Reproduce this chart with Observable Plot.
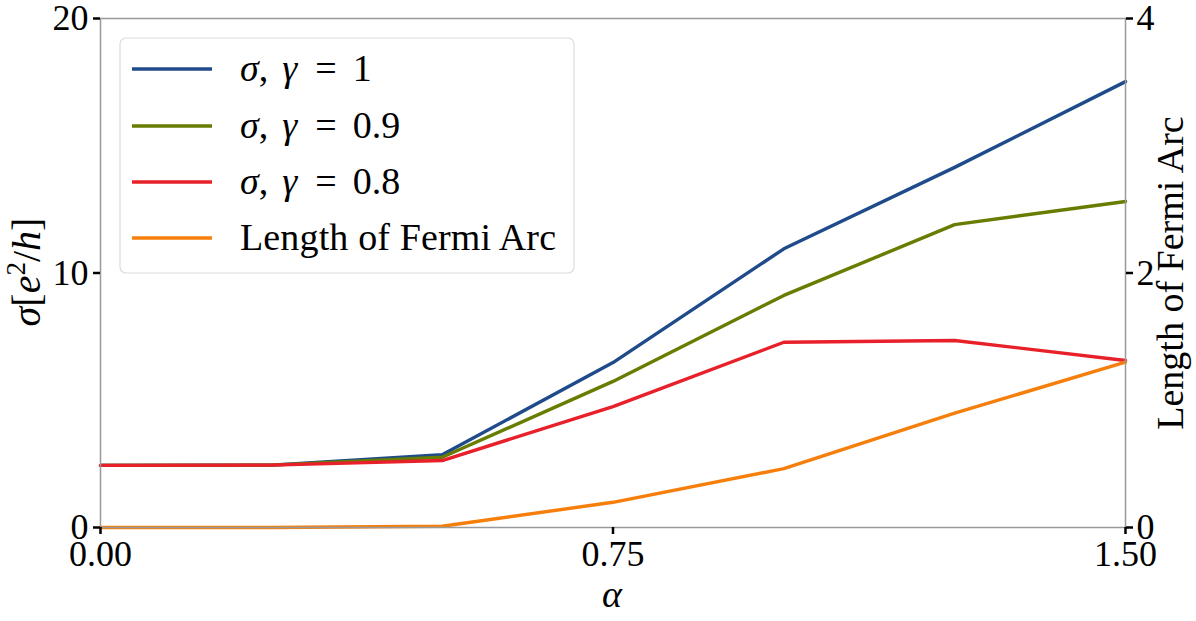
<!DOCTYPE html>
<html>
<head>
<meta charset="utf-8">
<script src="https://cdn.jsdelivr.net/npm/d3@7"></script>
<script src="https://cdn.jsdelivr.net/npm/@observablehq/plot@0.6"></script>
<style>
  html, body { margin: 0; padding: 0; background: white; }
  #chart { width: 1196px; height: 621px; }
</style>
</head>
<body>
<div id="chart"></div>
<script>
// ---- data ----
const alpha = [0, 0.25, 0.5, 0.75, 1.0, 1.25, 1.5];
const sigmaG1 = [2.44, 2.45, 2.86, 6.48, 10.95, 14.15, 17.52];
const sigmaG09 = [2.44, 2.45, 2.76, 5.74, 9.12, 11.9, 12.81];
const sigmaG08 = [2.44, 2.45, 2.63, 4.75, 7.28, 7.35, 6.56];
const fermiArc = [0, 0, 0.01, 0.198, 0.463, 0.898, 1.30];
const seriesNames = ["σ, γ = 1", "σ, γ = 0.9", "σ, γ = 0.8", "Length of Fermi Arc"];
const seriesColors = ["#1f4b8a", "#667d00", "#e8202a", "#f67f0b"];
const xTicks = [0, 0.75, 1.5];
const leftTicks = [0, 10, 20];
const rightTicks = [0, 2, 4];
const rightFactor = 5; // right axis 0..4 maps onto left 0..20

const rows = [];
[sigmaG1, sigmaG09, sigmaG08].forEach((arr, i) =>
  arr.forEach((v, j) => rows.push({series: seriesNames[i], alpha: alpha[j], value: v})));
fermiArc.forEach((v, j) => rows.push({series: seriesNames[3], alpha: alpha[j], value: v * rightFactor}));

const W = 1196, H = 621;
const mL = 100, mR = 71, mT = 18, mB = 94;
const FONT = "'Liberation Serif', 'DejaVu Serif', serif";

const plot = Plot.plot({
  width: W, height: H,
  marginLeft: mL, marginRight: mR, marginTop: mT, marginBottom: mB,
  style: {fontFamily: FONT, fontSize: "36px", color: "black", background: "white", overflow: "visible"},
  x: {domain: [0, 1.5]},
  y: {domain: [0, 20]},
  color: {domain: seriesNames, range: seriesColors},
  marks: [
    Plot.line(rows, {x: "alpha", y: "value", z: "series", stroke: "series", strokeWidth: 3.4, strokeLinejoin: "miter"}),
    Plot.frame({stroke: "#999", strokeWidth: 1.5}),
    Plot.axisX(xTicks, {tickSize: 7, tickPadding: 6, strokeWidth: 2.5, stroke: "black", tickFormat: d3.format(".2f"), label: null, fontSize: 36}),
    Plot.axisY(leftTicks, {anchor: "left", tickSize: 7, tickPadding: 5, strokeWidth: 2.5, stroke: "black", label: null, fontSize: 36}),
    Plot.axisY(rightTicks.map(v => v * rightFactor), {anchor: "right", tickSize: 7, tickPadding: 4, strokeWidth: 2.5, stroke: "black", tickFormat: d => String(d / rightFactor), label: null, fontSize: 36})
  ]
});
document.getElementById("chart").appendChild(plot);

const svg = d3.select(plot);
const LBL = 38;

// x label
svg.append("text").attr("x", 612).attr("y", 607).attr("text-anchor", "middle")
  .attr("font-family", FONT).attr("font-size", LBL).attr("font-style", "italic").text("α");

// left y label: σ[e²/h]
const yl = svg.append("text").attr("transform", "translate(40,272) rotate(-90)")
  .attr("text-anchor", "middle").attr("font-family", FONT).attr("font-size", 40);
yl.append("tspan").attr("font-style", "italic").text("σ");
yl.append("tspan").text("[");
yl.append("tspan").attr("font-style", "italic").text("e");
yl.append("tspan").attr("font-size", 27).attr("dy", -15).text("2");
yl.append("tspan").attr("dy", 15).text("/");
yl.append("tspan").attr("font-style", "italic").text("h");
yl.append("tspan").text("]");

// right y label
svg.append("text").attr("transform", "translate(1183,273) rotate(-90)")
  .attr("text-anchor", "middle").attr("font-family", FONT).attr("font-size", LBL)
  .text("Length of Fermi Arc");

// legend
const lg = svg.append("g");
lg.append("rect").attr("x", 120).attr("y", 38).attr("width", 454).attr("height", 235)
  .attr("rx", 6).attr("fill", "white").attr("fill-opacity", 0.85).attr("stroke", "#dcdcdc").attr("stroke-width", 1.2);
const rowsY = [69, 126, 182, 238];
const gammaVals = ["1", "0.9", "0.8"];
seriesNames.forEach((name, i) => {
  lg.append("line").attr("x1", 132).attr("x2", 212).attr("y1", rowsY[i]).attr("y2", rowsY[i])
    .attr("stroke", seriesColors[i]).attr("stroke-width", 3.5);
  const t = lg.append("text").attr("x", 240).attr("y", rowsY[i] + 12).attr("text-anchor", "start")
    .attr("font-family", FONT).attr("font-size", LBL);
  if (i < 3) {
    t.append("tspan").attr("font-style", "italic").text("σ");
    t.append("tspan").text(",");
    t.append("tspan").attr("dx", 14).attr("font-style", "italic").text("γ");
    t.append("tspan").attr("dx", 18).text("=");
    t.append("tspan").attr("dx", 16).text(gammaVals[i]);
  } else {
    t.append("tspan").text(name).attr("textLength", 316).attr("lengthAdjust", "spacing");
  }
});
</script>
</body>
</html>
